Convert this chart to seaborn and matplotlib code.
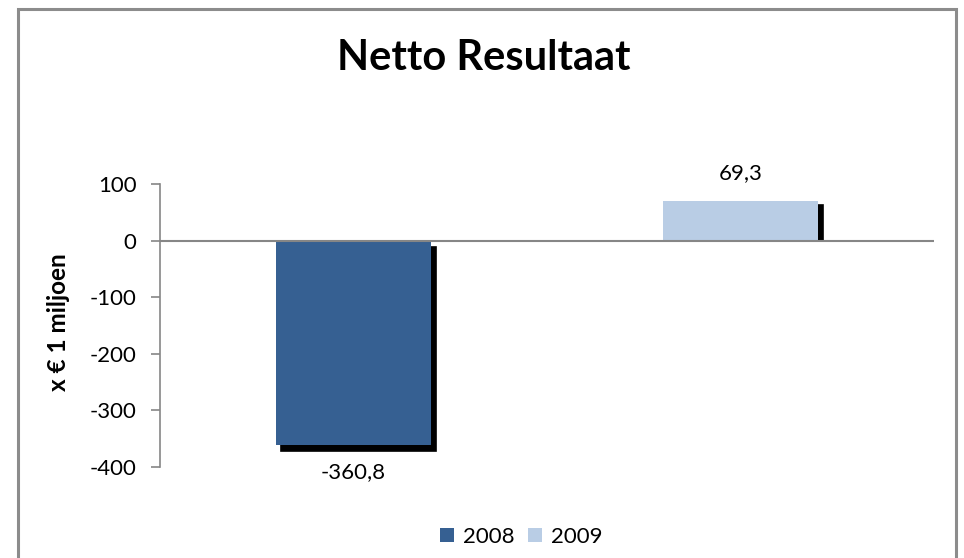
import matplotlib
matplotlib.use("Agg")
import matplotlib.pyplot as plt
import matplotlib.transforms as mtransforms
from matplotlib.patches import Rectangle, Patch
import seaborn as sns
import pandas as pd

# ---- data ----
years = ["2008", "2009"]
values = [-360.8, 69.3]
value_labels = ["-360,8", "69,3"]
colors = ["#366092", "#B9CDE5"]
yticks = [100, 0, -100, -200, -300, -400]
title = "Netto Resultaat"
ylabel = "x € 1 miljoen"

sns.set_theme(style="white")
plt.rcParams["font.family"] = ["Lato", "DejaVu Sans"]
plt.rcParams["text.color"] = "black"
plt.rcParams["axes.labelcolor"] = "black"
plt.rcParams["ytick.labelcolor"] = "black"

df = pd.DataFrame({"year": years, "value": values})

fig = plt.figure(figsize=(9.64, 5.58), dpi=100)
fig.patch.set_facecolor("white")
ax = fig.add_axes([160 / 964, 1 - 466.7 / 558, (934 - 160) / 964, (466.7 - 184) / 558])

sns.barplot(data=df, x="year", y="value", hue="year", palette=colors,
            width=0.4, dodge=False, legend=False, ax=ax, saturation=1,
            linewidth=0, edgecolor="none")

ax.set_ylim(-400, 100)
ax.set_xlim(-0.5, 1.5)

# drop shadows derived from the bar patches
for p in list(ax.patches):
    p.set_zorder(3)
    positive = p.get_y() >= 0 and p.get_height() > 0
    dy = -4 if positive else -6
    tr = mtransforms.offset_copy(ax.transData, fig=fig, x=5, y=dy, units="dots")
    sh = Rectangle(p.get_xy(), p.get_width(), p.get_height(), transform=tr,
                   facecolor="black", edgecolor="black", linewidth=1.2, zorder=2)
    ax.add_patch(sh)
    if positive:
        clip = mtransforms.TransformedBbox(
            mtransforms.Bbox([[-0.5, 0], [1.5, 100]]), ax.transData)
        sh.set_clip_box(clip)

ax.axhline(0, color="#868686", lw=1.5, zorder=4)

ax.set_yticks(yticks)
ax.set_yticklabels([str(t) for t in yticks], fontsize=16, color="black")
ax.set_xticks([])
ax.set_xlabel("")
ax.set_ylabel(ylabel, fontsize=17.5, fontweight="bold", color="black")
ax.yaxis.set_label_coords(-0.116, 0.512)
for s in ["top", "right", "bottom"]:
    ax.spines[s].set_visible(False)
ax.spines["left"].set_color("#868686")
ax.spines["left"].set_linewidth(1.2)
ax.tick_params(axis="y", which="major", left=True, length=6.5, width=1.2,
               color="#868686", labelcolor="black", direction="out", pad=10.5)

for cont, lab in zip(ax.containers, value_labels):
    ax.bar_label(cont, labels=[lab] * len(cont), padding=13, fontsize=16, color="black")

fig.text(0.502, 1 - 70 / 558, title, ha="center", va="baseline",
         fontsize=30, fontweight="bold", color="black")

handles = [Patch(facecolor=c, edgecolor="none") for c in colors]
leg = fig.legend(handles, years, loc="center", bbox_to_anchor=(521.5 / 964, 1 - 537 / 558),
                 ncol=2, frameon=False, fontsize=16, handlelength=0.63, handleheight=0.63,
                 handletextpad=0.4, columnspacing=0.6)
for t in leg.get_texts():
    t.set_color("black")

frame = Rectangle((18 / 964, -0.05), (956 - 18) / 964, (558 - 9) / 558 + 0.05,
                  transform=fig.transFigure, facecolor="none", edgecolor="#8c8c8c",
                  linewidth=2.2, zorder=10)
fig.patches.append(frame)

fig.savefig("out.png", dpi=100)
